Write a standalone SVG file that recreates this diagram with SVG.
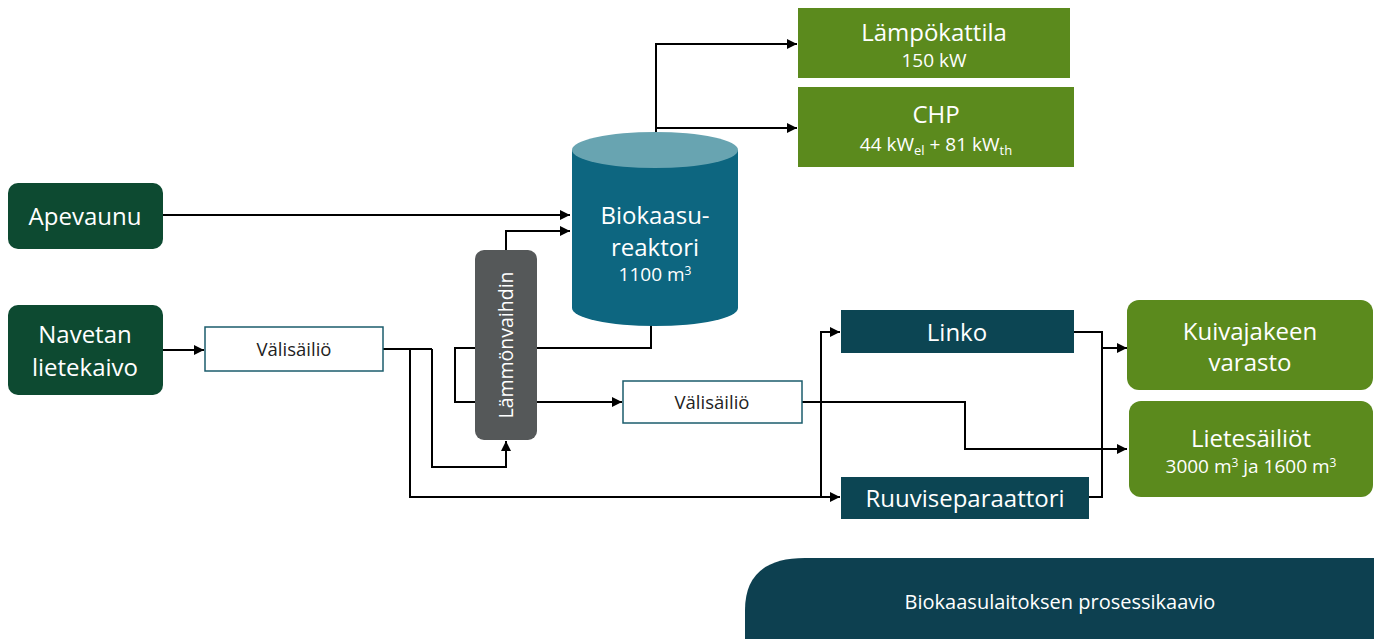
<svg xmlns="http://www.w3.org/2000/svg" width="1374" height="639" viewBox="0 0 1374 639">
<style>
text{font-family:"Open Sans","Noto Sans",sans-serif;fill:#fff;text-anchor:middle}
.g{fill:#5b8a1d}
.dg{fill:#0d4a31}
.dt{fill:#0c4553}
.wb{fill:#fff;stroke:#1b5c6c;stroke-width:1.5}
.t24{font-size:24px}
.t16{font-size:19px}
.dk{fill:#222}
.c{fill:none;stroke:#000;stroke-width:2}
.a{marker-end:url(#ar)}
</style>
<defs>
<marker id="ar" viewBox="0 0 10 10" refX="10" refY="5" markerWidth="10" markerHeight="10" markerUnits="userSpaceOnUse" orient="auto">
<path d="M0,0L10,5L0,10z" fill="#000"/>
</marker>
</defs>
<g id="connectors">
<path class="c a" d="M163,215H570"/>
<path class="c a" d="M506,250V231H570"/>
<path class="c a" d="M163,350H204"/>
<path class="c" d="M383,349H432"/>
<path class="c a" d="M432,349V467H506V441"/>
<path class="c a" d="M410,349V497H840"/>
<path class="c a" d="M651,320V348H455V402H622"/>
<path class="c a" d="M802,402H965V449H1127"/>
<path class="c a" d="M821,497V332H840"/>
<path class="c" d="M1074,332H1102V497H1089"/>
<path class="c a" d="M1102,348H1127"/>
<path class="c a" d="M656,140V44H797"/>
<path class="c a" d="M656,128H797"/>
</g>
<g id="lampokattila">
<rect class="g" x="798" y="8" width="272" height="70"/>
<text class="t24" x="934" y="41">Lämpökattila</text>
<text class="t16" x="934" y="67">150 kW</text>
</g>
<g id="chp">
<rect class="g" x="798" y="87" width="276" height="80"/>
<text class="t24" x="936" y="123">CHP</text>
<text class="t16" x="936" y="151">44 kW<tspan font-size="13" dy="4">el</tspan><tspan dy="-4"> + 81 kW</tspan><tspan font-size="13" dy="4">th</tspan></text>
</g>
<g id="apevaunu">
<rect class="dg" x="8" y="183" width="155" height="66" rx="10"/>
<text class="t24" x="85" y="225">Apevaunu</text>
</g>
<g id="navetan">
<rect class="dg" x="8" y="305" width="155" height="90" rx="10"/>
<text class="t24" x="85" y="343">Navetan</text>
<text class="t24" x="85" y="376">lietekaivo</text>
</g>
<g id="valisailio1">
<rect class="wb" x="205" y="327" width="178" height="44"/>
<text class="dk" x="294" y="356" font-size="18.5">Välisäiliö</text>
</g>
<g id="reaktori">
<path d="M572,150V308A83,18 0 0 0 738,308V150z" fill="#0d6680"/>
<ellipse cx="655" cy="150" rx="83" ry="18" fill="#68a4b1"/>
<text class="t24" x="655" y="224">Biokaasu-</text>
<text class="t24" x="655" y="256">reaktori</text>
<text class="t16" x="655" y="281">1100 m<tspan font-size="12" dy="-6">3</tspan></text>
</g>
<g id="lammonvaihdin">
<rect x="475" y="250" width="62" height="190" rx="9" fill="#555859"/>
<text x="0" y="0" font-size="19.5" transform="translate(513,345) rotate(-90)">Lämmönvaihdin</text>
</g>
<g id="valisailio2">
<rect class="wb" x="623" y="381" width="179" height="42"/>
<text class="dk" x="712" y="409" font-size="18.5">Välisäiliö</text>
</g>
<g id="linko">
<rect class="dt" x="841" y="310" width="233" height="43"/>
<text class="t24" x="957" y="341">Linko</text>
</g>
<g id="ruuvi">
<rect class="dt" x="841" y="477" width="248" height="42"/>
<text class="t24" x="965" y="507">Ruuviseparaattori</text>
</g>
<g id="kuivajae">
<rect class="g" x="1127" y="300" width="246" height="90" rx="12"/>
<text class="t24" x="1250" y="340">Kuivajakeen</text>
<text class="t24" x="1250" y="371">varasto</text>
</g>
<g id="lietesailiot">
<rect class="g" x="1129" y="401" width="244" height="96" rx="12"/>
<text class="t24" x="1251" y="447">Lietesäiliöt</text>
<text class="t16" x="1251" y="473">3000 m<tspan font-size="12" dy="-6">3</tspan><tspan dy="6"> ja 1600 m</tspan><tspan font-size="12" dy="-6">3</tspan></text>
</g>
<g id="footer">
<path d="M745,639V610Q745,558 805,558H1374V639z" fill="#0d4050"/>
<text x="1060" y="609" font-size="20">Biokaasulaitoksen prosessikaavio</text>
</g>
</svg>
